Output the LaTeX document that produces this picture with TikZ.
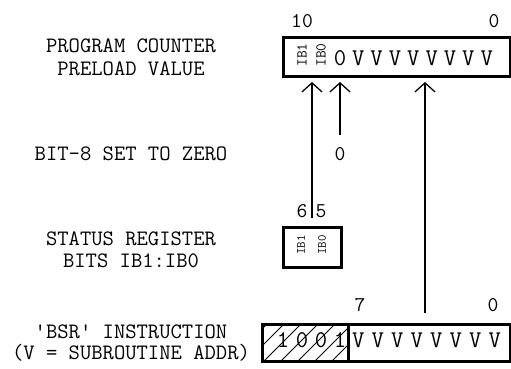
\documentclass[tikz,border=0pt]{standalone}
\usepackage{fontspec}
\usetikzlibrary{arrows.meta}
\begin{document}
\begin{tikzpicture}[x=1pt,y=-1pt,
  lbl/.style={font=\ttfamily\fontsize{22}{22}\selectfont, anchor=base, inner sep=0pt},
  bit/.style={font=\ttfamily\fontsize{24}{24}\selectfont, anchor=base, inner sep=0pt},
  num/.style={font=\ttfamily\fontsize{21}{21}\selectfont, anchor=base, inner sep=0pt},
  rot/.style={font=\ttfamily\fontsize{15}{15}\selectfont, rotate=90, inner sep=0pt},
  rots/.style={font=\ttfamily\fontsize{12.5}{12.5}\selectfont, rotate=90, inner sep=0pt},
  regbox/.style={draw, line width=3pt, inner sep=0pt, outer sep=0pt},
  arr/.style={line width=1.3pt, -{Straight Barb[length=9pt,width=20pt,line width=1.3pt]}}]
\useasboundingbox (0,0) rectangle (511,368);
% left labels
\node[lbl] (l1) at (131,52) {PROGRAM COUNTER};
\node[lbl] (l2) at (131,75) {PRELOAD VALUE};
\node[lbl] (l3) at (131,160) {BIT-8 SET TO ZERO};
\node[lbl] (l4) at (131,245) {STATUS REGISTER};
\node[lbl] (l5) at (131,267) {BITS IB1:IB0};
\node[lbl] (l6) at (131,338) {\textquotesingle BSR\textquotesingle{} INSTRUCTION};
\node[lbl] (l7) at (131,359) {(V = SUBROUTINE ADDR)};
% program counter box
\node[regbox, minimum width=227pt, minimum height=39pt] (pc) at (396.5,56.5) {};
\node[num] (t10) at (302,27) {10};
\node[num] (t0) at (494,27) {0};
\node[rot] (pib1) at (302,55) {IB1};
\node[rot] (pib0) at (321,55) {IB0};
\node[bit] (pz) at (340,65) {0};
\foreach \i in {0,...,7} {
  \node[bit] (pv\i) at ({358.3+18.35*\i},65) {V};
}
% bit-8 zero
\node[num] (z8) at (340,160) {0};
% status register box
\node[regbox, minimum width=58pt, minimum height=40pt] (sr) at (312,247) {};
\node[rots] (sib1) at (301,245) {IB1};
\node[rots] (sib0) at (322,245) {IB0};
\node[num] (s6) at (302,217) {6};
\node[num] (s5) at (321,217) {5};
% bsr instruction box
\begin{scope}
  \clip (262,324) rectangle (348,361);
  \foreach \k in {0,...,8} {
    \draw[line width=1pt] ({230+17*\k},361) -- ({267+17*\k},324);
  }
\end{scope}
\node[regbox, minimum width=86pt, minimum height=37pt] (bl) at (305,342.5) {};
\node[regbox, minimum width=162pt, minimum height=37pt] (br) at (429,342.5) {};
\foreach \d/\x [count=\j] in {1/283,0/302,0/321,1/340} {
  \node[bit] (bo\j) at (\x,347) {\d};
}
\foreach \i in {0,...,7} {
  \node[bit] (bv\i) at ({358.3+19.5*\i},347) {V};
}
\node[num] (b7) at (360,311) {7};
\node[num] (b0) at (493,311) {0};
% arrows
\coordinate (a1s) at (312,218);
\coordinate (a3s) at (425,313);
\draw[arr, shorten >=6pt] (a1s) -- (a1s |- pc.south);
\draw[arr, shorten >=6pt, shorten <=12pt] (z8.north) -- (z8.north |- pc.south);
\draw[arr, shorten >=6pt] (a3s) -- (a3s |- pc.south);
\end{tikzpicture}
\end{document}
